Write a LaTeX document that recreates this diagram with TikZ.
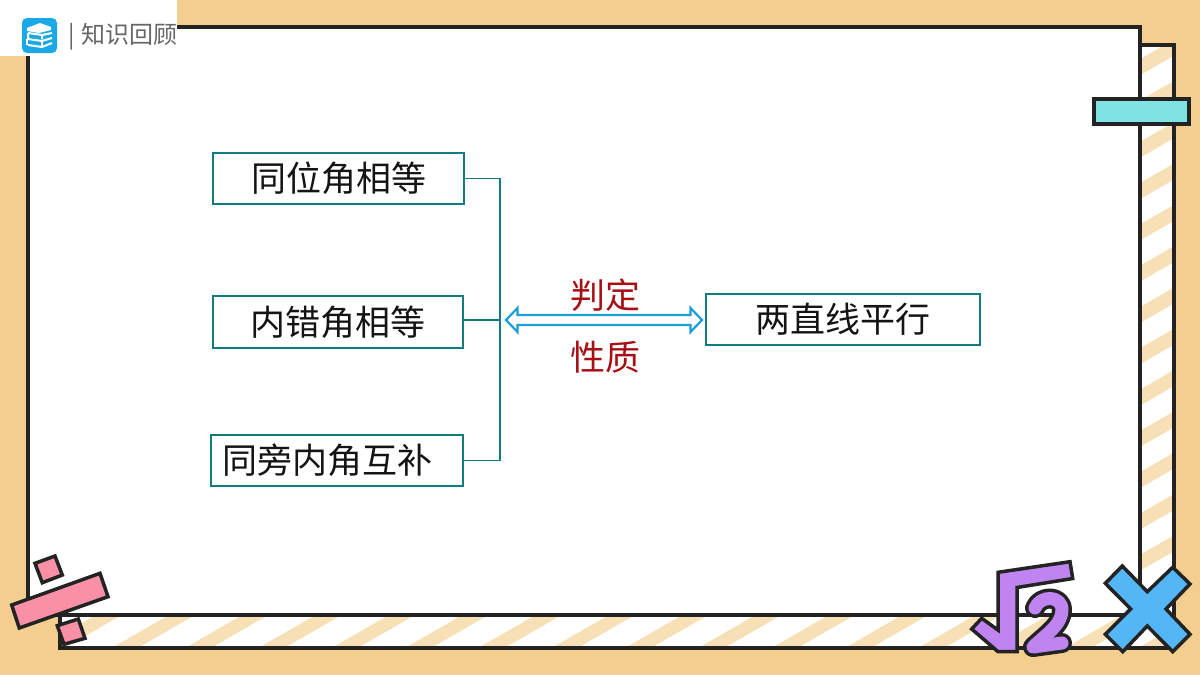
\documentclass[tikz,border=0pt]{standalone}
\usepackage{fontspec}
\setmainfont{Noto Sans CJK SC}
\definecolor{bgor}{HTML}{F3CE8E}
\definecolor{stripe}{HTML}{F8E0B6}
\definecolor{ink}{HTML}{232323}
\definecolor{teal1}{HTML}{0F7C80}
\definecolor{arrowb}{HTML}{1C9FD8}
\definecolor{redt}{HTML}{A80F14}
\definecolor{pinkc}{HTML}{F990A6}
\definecolor{cyanc}{HTML}{7FE3E3}
\definecolor{bluec}{HTML}{55B6F6}
\definecolor{purp}{HTML}{C084F0}
\definecolor{iconb}{HTML}{1AA9E6}
\tikzset{
  framed/.style={draw=ink,line width=3.2pt,line join=miter},
  deco/.style={draw=ink,line width=3.5pt,line join=miter},
  termbox/.style={draw=teal1,line width=1.6pt,fill=white,minimum height=51.5pt,inner sep=0pt,font=\fontsize{35}{35}\selectfont,text=black!92},
  link/.style={draw=teal1,line width=1.6pt},
  rel/.style={text=redt,font=\fontsize{35}{35}\selectfont,inner sep=0pt},
}
\begin{document}
\begin{tikzpicture}[x=1pt,y=-1pt]
\useasboundingbox (0,0) rectangle (1200,675);
\fill[bgor] (0,0) rectangle (1200,675);
% striped strip
\fill[white] (60,45) rectangle (1174,648);
\begin{scope}
\clip (60,45) rectangle (1174,648);
\foreach \k in {-2,...,16}{
  \pgfmathsetmacro{\c}{712.5+42.3*\k}
  \fill[stripe] (0,\c) -- (1200,\c-692.4) -- (1200,\c-692.4+15) -- (0,\c+15) -- cycle;
}
\end{scope}
\begin{scope}
\clip (1140,45) rectangle (1174,616);
\fill[white] (1140,45) rectangle (1174,616);
\foreach \k in {0,...,15}{
  \pgfmathsetmacro{\c}{717+41.3*\k}
  \fill[stripe] (0,\c) -- (1200,\c-692.4) -- (1200,\c-692.4+16) -- (0,\c+16) -- cycle;
}
\end{scope}
\draw[framed] (60,45) rectangle (1174,648);
\draw[framed,fill=white] (28,27) rectangle (1140,615);
% header
\fill[white] (0,0) rectangle (177,56);
\fill[iconb,rounded corners=5pt] (22,18) rectangle (57,53);
\fill[white] (27,28) -- (40,23) -- (51,27) -- (51,30) -- (39,33) -- (27,31) -- cycle;
\draw[white,line width=2pt] (28,33) -- (42,35) -- (52,33) (42,35) -- (42,39) (28,39) -- (42,41) -- (52,38) (28,45) -- (42,47) -- (52,43) (28,33) -- (28,39);
\draw[white,line width=2pt] (42,41) -- (42,47) (27,39) -- (27,45);
\node[anchor=west,inner sep=0pt,text=black!60,font=\fontsize{24}{24}\selectfont] (hdr) at (68.5,36.5) {|\hspace{6pt}知识回顾};
% teal bar
\draw[deco,fill=cyanc] (1094,99) rectangle (1189,124);
% divide sign
\draw[deco,fill=pinkc] (11.7,605) -- (100,573.3) -- (108,596.7) -- (19.3,628) -- cycle;
\draw[deco,fill=pinkc] (35,563.3) -- (55,556) -- (62.3,575) -- (42.3,582.7) -- cycle;
\draw[deco,fill=pinkc] (57.3,625.7) -- (78.3,619) -- (85,638.3) -- (64,644.3) -- cycle;
% cross
\draw[deco,fill=bluec] (1122.3,566) -- (1147.3,591.7) -- (1172.7,567.3) -- (1190,584) -- (1166,609) -- (1190,634.3) -- (1172.7,651.7) -- (1147.3,626) -- (1122.7,651.7) -- (1105.3,634.3) -- (1130.7,609) -- (1105.3,583.3) -- cycle;
% root
\draw[deco,fill=purp] (998,572.3) -- (1070,561.7) -- (1072.7,578.5) -- (1017,587.5) -- (1017,651.7) -- (998,651.7) -- (971.7,629) -- (981.7,618.3) -- (998,630) -- cycle;
\draw[ink,line width=20pt,line cap=round,line join=round] (1035,608) .. controls (1040,595) and (1062,595) .. (1062,610) .. controls (1062,625) and (1045,635) .. (1033,647) -- (1062,643);
\draw[purp,line width=13pt,line cap=round,line join=round] (1035,608) .. controls (1040,595) and (1062,595) .. (1062,610) .. controls (1062,625) and (1045,635) .. (1033,647) -- (1062,643);
% boxes
\node[termbox,minimum width=251pt] (a) at (338.5,178.5) {\raisebox{-1pt}{同位角相等}};
\node[termbox,minimum width=250pt] (b) at (338,322) {\raisebox{-1pt}{内错角相等}};
\node[termbox,minimum width=252pt,text width=230pt,align=left] (c) at (337,460.5) {\raisebox{-1pt}{同旁内角互补}};
\node[termbox,minimum width=274pt] (d) at (843,319.5) {两直线平行};
% bracket
\coordinate (bus) at (500,320);
\draw[link] (a.east) -| (bus);
\draw[link] (c.east) -| (bus);
\draw[link] (b.east |- bus) -- (bus);
% double arrow
\coordinate (al) at (506,320);
\coordinate (ar) at (702,320);
\draw[draw=arrowb,line width=2.2pt,line join=miter,fill=white] (al) -- ++(11.5,-12) -- ++(0,7) -- (690.5,315) -- ++(0,-7) -- (ar) -- ++(-11.5,12) -- ++(0,-7) -- (517.5,325) -- ++(0,7) -- cycle;
% labels
\node[rel] (p1) at (605.5,295) {判定};
\node[rel] (p2) at (605.5,357) {性质};
\end{tikzpicture}
\end{document}
